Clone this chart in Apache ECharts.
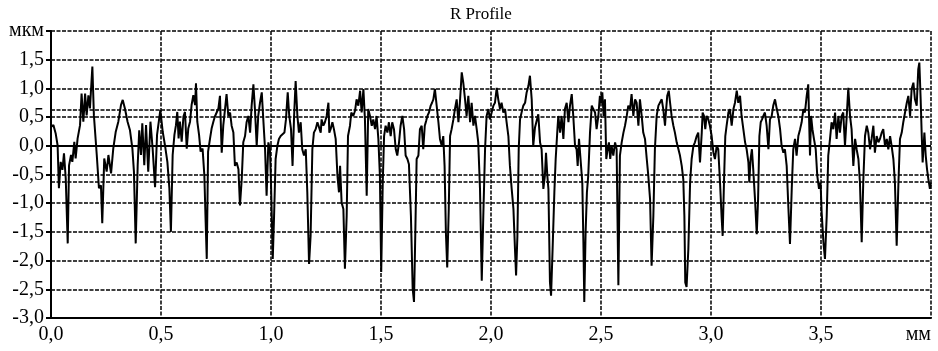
<!DOCTYPE html>
<html>
<head>
<meta charset="utf-8">
<script src="https://cdn.jsdelivr.net/npm/echarts@6/dist/echarts.min.js"></script>
<style>html,body{margin:0;padding:0;background:#fff}#c{width:938px;height:351px}</style>
</head>
<body>
<div id="c"></div>
<script>
const chartTitle = 'R Profile';
const xTickLabels = ['0,0','0,5','1,0','1,5','2,0','2,5','3,0','3,5','мм'];
const yTickLabels = ['-3,0','-2,5','-2,0','-1,5','-1,0','-0,5','0,0','0,5','1,0','1,5','мкм'];
const refLevels = [0.63, -0.63];
const meanLevel = 0;
const profileX = [
0.000,0.011,0.021,0.030,0.036,0.044,0.052,0.059,0.067,0.076,0.082,0.091,0.097,0.106,0.112,0.121,0.132,0.139,0.147,0.155,
0.162,0.170,0.177,0.188,0.195,0.208,0.218,0.227,0.233,0.242,0.253,0.261,0.273,0.283,0.294,0.306,0.318,0.326,0.336,0.348,
0.359,0.370,0.377,0.385,0.394,0.401,0.409,0.415,0.424,0.432,0.442,0.452,0.462,0.473,0.482,0.491,0.497,0.508,0.518,0.529,
0.538,0.545,0.553,0.561,0.568,0.574,0.580,0.586,0.594,0.602,0.609,0.617,0.624,0.632,0.639,0.647,0.655,0.659,0.665,0.673,
0.680,0.689,0.697,0.703,0.708,0.714,0.723,0.730,0.738,0.745,0.753,0.761,0.768,0.776,0.783,0.791,0.798,0.806,0.814,0.821,
0.829,0.836,0.844,0.852,0.859,0.867,0.874,0.882,0.889,0.897,0.905,0.912,0.920,0.927,0.935,0.942,0.950,0.958,0.965,0.973,
0.980,0.988,0.995,1.000,1.008,1.014,1.021,1.029,1.036,1.044,1.052,1.061,1.068,1.076,1.083,1.091,1.098,1.105,1.112,1.120,
1.127,1.135,1.142,1.150,1.158,1.165,1.173,1.180,1.188,1.195,1.203,1.211,1.218,1.226,1.230,1.238,1.245,1.253,1.261,1.265,
1.271,1.279,1.286,1.294,1.302,1.309,1.314,1.321,1.329,1.336,1.344,1.350,1.359,1.365,1.374,1.382,1.389,1.397,1.405,1.412,
1.420,1.427,1.435,1.442,1.450,1.458,1.465,1.473,1.480,1.488,1.495,1.501,1.508,1.514,1.521,1.529,1.536,1.544,1.551,1.559,
1.567,1.574,1.582,1.589,1.597,1.605,1.612,1.620,1.627,1.636,1.644,1.650,1.656,1.662,1.670,1.677,1.685,1.692,1.699,1.705,
1.711,1.718,1.726,1.732,1.738,1.745,1.753,1.761,1.768,1.776,1.783,1.789,1.795,1.801,1.808,1.814,1.821,1.829,1.836,1.844,
1.852,1.859,1.867,1.874,1.882,1.889,1.897,1.905,1.912,1.920,1.927,1.935,1.942,1.950,1.958,1.965,1.973,1.980,1.988,1.995,
2.003,2.011,2.018,2.026,2.033,2.041,2.048,2.056,2.064,2.071,2.079,2.086,2.094,2.102,2.109,2.114,2.120,2.126,2.132,2.139,
2.147,2.155,2.162,2.170,2.177,2.185,2.192,2.200,2.208,2.215,2.223,2.230,2.238,2.245,2.250,2.256,2.261,2.268,2.273,2.280,
2.288,2.294,2.302,2.306,2.314,2.321,2.329,2.336,2.344,2.352,2.359,2.367,2.374,2.382,2.389,2.394,2.400,2.408,2.415,2.420,
2.424,2.430,2.436,2.442,2.450,2.458,2.465,2.473,2.480,2.488,2.495,2.500,2.506,2.512,2.518,2.524,2.530,2.536,2.542,2.548,
2.556,2.564,2.571,2.579,2.586,2.594,2.602,2.609,2.617,2.624,2.632,2.639,2.647,2.655,2.662,2.670,2.677,2.685,2.692,2.700,
2.708,2.715,2.723,2.730,2.738,2.745,2.753,2.761,2.768,2.776,2.783,2.791,2.795,2.801,2.808,2.814,2.821,2.829,2.836,2.844,
2.852,2.859,2.867,2.874,2.879,2.883,2.889,2.897,2.905,2.912,2.920,2.927,2.935,2.942,2.950,2.958,2.962,2.968,2.974,2.980,
2.988,2.995,3.003,3.011,3.018,3.026,3.033,3.041,3.048,3.053,3.059,3.065,3.071,3.079,3.086,3.094,3.102,3.109,3.117,3.124,
3.132,3.139,3.147,3.155,3.162,3.170,3.174,3.180,3.186,3.192,3.200,3.208,3.214,3.220,3.226,3.232,3.238,3.245,3.253,3.261,
3.268,3.276,3.283,3.291,3.299,3.306,3.314,3.321,3.329,3.336,3.344,3.352,3.359,3.367,3.374,3.382,3.389,3.397,3.405,3.412,
3.420,3.427,3.435,3.442,3.450,3.455,3.461,3.468,3.476,3.483,3.491,3.498,3.503,3.511,3.518,3.526,3.533,3.541,3.548,3.556,
3.564,3.571,3.579,3.586,3.594,3.601,3.609,3.617,3.624,3.632,3.639,3.647,3.655,3.662,3.670,3.677,3.685,3.692,3.700,3.708,
3.715,3.723,3.730,3.738,3.745,3.753,3.761,3.768,3.776,3.783,3.791,3.799,3.806,3.814,3.821,3.829,3.836,3.844,3.852,3.859,
3.867,3.874,3.882,3.890,3.897,3.905,3.912,3.920,3.927,3.935,3.942,3.947,3.953,3.958,3.962,3.970,3.976,3.982,3.988,3.995,
4.000];
const profileY = [
0.33,0.36,0.22,0.01,-0.74,-0.28,-0.42,-0.13,-0.57,-1.70,-0.34,-0.16,-0.28,0.07,-0.22,0.13,0.36,0.91,0.42,0.91,
0.53,0.88,0.65,1.38,0.53,-0.16,-0.74,-0.69,-1.35,-0.22,-0.45,-0.16,-0.48,-0.05,0.24,0.42,0.71,0.80,0.65,0.42,
0.27,-0.05,-0.45,-1.70,-0.34,0.27,-0.16,0.39,-0.34,0.36,-0.45,0.42,-0.05,-0.72,0.19,0.45,0.62,0.24,0.01,-0.28,
-0.74,-1.50,-0.16,0.19,0.36,0.59,0.13,0.42,0.07,0.51,0.59,-0.05,0.30,0.42,0.71,0.88,0.71,1.09,0.42,0.19,
-0.10,-0.05,-0.51,-1.33,-1.97,-0.10,0.13,0.30,0.42,0.51,0.53,0.65,0.87,-0.12,0.35,0.64,0.90,0.52,0.58,0.35,
0.23,-0.35,-0.29,-0.41,-1.04,-0.58,0.06,0.17,0.41,0.52,0.23,0.70,1.07,0.64,0.00,0.52,0.75,0.93,0.46,-0.06,
-0.87,0.06,-0.06,-0.64,-1.97,-1.22,-0.23,0.00,0.12,0.17,0.17,0.23,0.46,0.93,0.52,0.29,-0.35,0.52,1.13,0.52,
0.23,0.41,-0.06,-0.17,-0.06,-0.81,-2.06,-1.57,-0.06,0.23,0.29,0.41,0.41,0.23,0.46,0.35,0.41,0.52,0.75,0.23,
0.29,0.41,0.29,0.12,-0.52,-0.81,-0.35,-0.99,-1.10,-2.14,-1.22,0.17,0.35,0.58,0.52,0.61,0.81,0.70,0.96,0.58,
0.99,0.46,-0.87,0.64,0.52,0.35,0.46,0.29,0.52,0.12,-0.52,-2.20,-0.64,0.17,0.35,0.23,0.41,0.17,0.41,0.29,
-0.06,-0.17,0.06,0.35,0.52,0.29,-0.17,-0.23,-0.32,-1.22,-2.49,-2.72,-1.51,-0.23,-0.17,0.29,0.35,-0.06,0.35,0.43,
0.52,0.58,0.70,0.75,0.81,0.99,0.70,0.41,0.12,0.00,0.17,-0.35,-1.51,-2.12,-1.10,0.17,0.29,0.46,0.64,0.81,
0.41,0.78,1.28,1.10,0.81,0.52,0.87,0.41,0.75,0.35,0.52,0.29,0.06,-0.75,-2.35,-1.22,-0.06,0.52,0.64,0.46,
0.58,0.70,0.75,1.01,0.81,0.64,0.75,0.58,0.64,0.41,0.17,-0.35,-0.75,-1.10,-1.80,-2.26,-1.57,-0.06,0.46,0.58,
0.70,0.75,0.93,1.04,1.22,0.81,0.00,0.32,0.29,0.55,0.06,-0.06,-0.75,-0.52,-0.12,-0.52,-0.75,-2.38,-2.61,-1.80,
-0.81,-0.23,0.29,0.52,0.23,0.52,0.12,0.64,0.75,0.41,0.70,0.90,0.52,0.00,-0.06,-0.35,0.12,0.14,-0.64,-1.68,
-2.72,-1.51,-0.81,-0.52,0.23,0.70,0.64,0.58,0.29,0.52,0.87,0.75,0.93,0.52,0.81,-0.23,-0.06,0.06,-0.23,0.00,
-0.17,0.06,-0.06,-2.43,-0.17,0.06,0.23,0.35,0.52,0.70,0.64,0.90,0.52,0.81,0.75,0.35,0.81,0.52,0.23,0.12,
-0.23,-0.52,-0.93,-2.09,-1.22,-0.06,0.52,0.70,0.70,0.81,0.64,0.35,0.58,0.87,0.96,0.75,0.52,0.35,0.23,0.06,
-0.06,-0.17,-0.35,-0.58,-1.22,-2.38,-2.46,-1.80,-0.64,-0.23,0.00,0.06,0.17,0.23,-0.29,0.23,0.58,0.52,0.29,0.52,
0.46,0.35,0.17,-0.12,-0.23,0.00,-0.06,-0.64,-1.22,-1.57,-0.64,0.17,0.35,0.58,0.64,0.35,0.64,0.75,0.96,0.75,
0.87,0.52,0.29,0.06,-0.06,-0.29,-0.64,-0.23,-0.06,-0.41,-0.93,-1.54,-0.93,0.17,0.41,0.46,0.52,0.58,0.35,-0.06,
0.46,0.52,0.70,0.81,0.64,0.52,0.29,0.00,-0.12,-0.06,-0.35,-1.10,-1.71,-0.75,-0.06,0.12,-0.17,0.17,0.29,0.41,
0.64,0.58,0.87,1.07,-0.17,0.52,0.29,0.12,-0.06,-0.52,-0.75,-0.64,-1.16,-1.68,-1.97,-1.22,-0.17,0.12,0.41,0.29,
0.58,0.12,0.52,0.23,0.52,0.58,0.00,0.52,1.01,0.52,0.29,-0.35,0.12,-0.06,-0.23,-0.64,-1.68,-0.64,0.17,0.35,
0.23,-0.06,0.12,0.35,-0.12,0.17,0.06,0.12,0.23,0.29,0.00,0.12,-0.06,0.17,0.00,-0.23,-0.64,-1.74,-0.64,0.12,
0.23,0.41,0.58,0.75,0.87,0.52,0.99,1.10,0.81,0.70,1.33,1.45,0.81,0.17,-0.29,0.23,-0.17,-0.41,-0.58,-0.75,
-0.64];

const serif = '"Liberation Serif", "DejaVu Serif", serif';
const chart = echarts.init(document.getElementById('c'), null, {renderer: 'canvas'});
const gridLine = {show: true, lineStyle: {color: '#000', width: 1.5, type: [4, 1.5]}};
chart.setOption({
  animation: false,
  backgroundColor: '#fff',
  title: {
    text: chartTitle, left: 445, top: 1,
    textStyle: {fontFamily: serif, fontSize: 17, fontWeight: 'normal', color: '#000'}
  },
  grid: {left: 51, right: 7, top: 31, bottom: 33, containLabel: false},
  xAxis: {
    type: 'value', min: 0, max: 4, interval: 0.5,
    axisLine: {show: true, onZero: false, lineStyle: {color: '#000', width: 2}},
    axisTick: {show: false},
    splitLine: gridLine,
    axisLabel: {
      margin: 7, fontFamily: serif, fontSize: 20, color: '#000',
      alignMaxLabel: 'right',
      formatter: v => xTickLabels[Math.round(v / 0.5)]
    }
  },
  yAxis: {
    type: 'value', min: -3, max: 2, interval: 0.5,
    axisLine: {show: true, onZero: false, lineStyle: {color: '#000', width: 2}},
    axisTick: {show: true, inside: false, length: 5, lineStyle: {color: '#000', width: 2}},
    splitLine: gridLine,
    axisLabel: {
      margin: 7, fontFamily: serif, fontSize: 20, color: '#000',
      formatter: v => yTickLabels[Math.round((v + 3) / 0.5)]
    }
  },
  series: [{
    type: 'line',
    data: profileX.map((x, i) => [x, profileY[i]]),
    showSymbol: false,
    symbol: 'none',
    lineStyle: {color: '#000', width: 2},
    z: 5,
    markLine: {
      silent: true, symbol: 'none', label: {show: false}, animation: false,
      data: [
        {yAxis: meanLevel, lineStyle: {color: '#000', width: 2, type: 'solid'}},
        ...refLevels.map(v => ({yAxis: v, lineStyle: {color: '#000', width: 1.5, type: [4, 1.5]}}))
      ]
    }
  }]
});
</script>
</body>
</html>
